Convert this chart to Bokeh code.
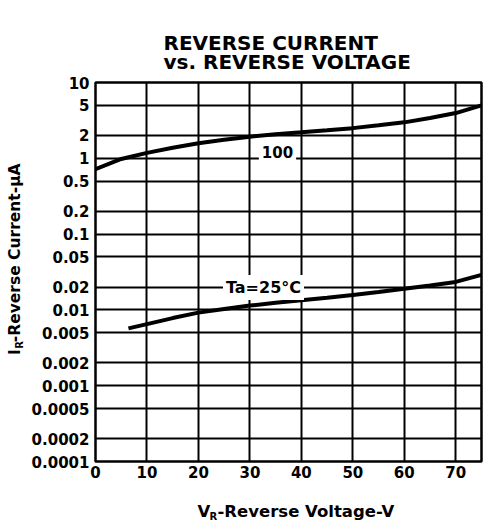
import math
from bokeh.plotting import figure
from bokeh.models import FixedTicker, Label
from bokeh.layouts import column, row
from bokeh.embed import file_html
from bokeh.resources import INLINE

# ---- data ----
x_ticks = [0, 10, 20, 30, 40, 50, 60, 70]
y_ticks = [0.0001, 0.0002, 0.0005, 0.001, 0.002, 0.005, 0.01, 0.02,
           0.05, 0.1, 0.2, 0.5, 1, 2, 5, 10]
y_tick_labels = ["0.0001", "0.0002", "0.0005", "0.001", "0.002", "0.005", "0.01", "0.02",
                 "0.05", "0.1", "0.2", "0.5", "1", "2", "5", "10"]

v_100 = [0, 5, 10, 15, 20, 25, 30, 35, 40, 45, 50, 55, 60, 65, 70, 75]
i_100 = [0.72, 0.98, 1.18, 1.38, 1.58, 1.76, 1.93, 2.07, 2.2, 2.34, 2.5, 2.72, 2.98, 3.4, 3.95, 5.0]

v_25 = [6.4, 10, 15, 20, 25, 30, 35, 40, 45, 50, 55, 60, 65, 70, 75]
i_25 = [0.0057, 0.0065, 0.0078, 0.0092, 0.0103, 0.0114, 0.0124, 0.0134, 0.0145,
        0.0157, 0.0172, 0.019, 0.021, 0.0234, 0.029]

title_lines = ["REVERSE CURRENT", "vs. REVERSE VOLTAGE"]
curve_labels = ["100", "Ta=25°C"]

X_MIN, X_MAX = 0, 75
Y_MIN, Y_MAX = 1e-4, 10

# ---- layout geometry (page pixels; the layout sits at the page origin) ----
FL, FR, FT, FB = 95, 481, 82, 461     # plot frame
TOTAL_W = 500
TITLE_H = 72                            # title strip: page y 0..72
YLAB_W = 26                             # y-label strip: page x 0..26
MAIN_W = TOTAL_W - YLAB_W
MAIN_TOP = TITLE_H
MAIN_H = 413                            # page y 72..485
XLAB_H = 42                             # x-label strip: page y 485..527
XLAB_TOP = MAIN_TOP + MAIN_H

FONT = "DejaVu Sans"


def dx(px):
    return X_MIN + (px - FL) * (X_MAX - X_MIN) / (FR - FL)


def dy(py):
    lo, hi = math.log10(Y_MIN), math.log10(Y_MAX)
    return 10 ** (lo + (FB - py) * (hi - lo) / (FB - FT))


def text_strip(w, h):
    f = figure(width=w, height=h, x_range=(0, w), y_range=(0, h),
               output_backend="svg", toolbar_location=None, title=None,
               x_axis_location=None, y_axis_location=None, min_border=0)
    f.outline_line_color = None
    f.background_fill_color = "white"
    f.border_fill_color = "white"
    f.grid.visible = False
    return f


def put(fig, x, y, text, size, style="bold", align="left", baseline="middle",
        angle=0.0, bg=None, pad=0):
    kw = {}
    if bg is not None:
        kw["background_fill_color"] = bg
        kw["padding"] = pad
    fig.add_layout(Label(x=x, y=y, text=text, text_font=FONT, text_font_style=style,
                         text_font_size=size, text_color="black", text_align=align,
                         text_baseline=baseline, angle=angle, **kw))


# ---- main plot ----
p = figure(width=MAIN_W, height=MAIN_H, x_range=(X_MIN, X_MAX), y_range=(Y_MIN, Y_MAX),
           y_axis_type="log", output_backend="svg", toolbar_location=None, title=None,
           min_border_left=FL - YLAB_W, min_border_right=YLAB_W + MAIN_W - FR,
           min_border_top=FT - MAIN_TOP, min_border_bottom=MAIN_TOP + MAIN_H - FB)
p.background_fill_color = "white"
p.border_fill_color = "white"
p.outline_line_color = "black"
p.outline_line_width = 2.5
p.outline_line_alpha = 1.0

p.xaxis.ticker = FixedTicker(ticks=x_ticks)
p.yaxis.ticker = FixedTicker(ticks=y_ticks)
p.xgrid.ticker = FixedTicker(ticks=x_ticks)
p.ygrid.ticker = FixedTicker(ticks=y_ticks)
p.yaxis.major_label_overrides = {v: s for v, s in zip(y_ticks, y_tick_labels)}

for ax in (p.xaxis[0], p.yaxis[0]):
    ax.axis_line_color = None
    ax.major_tick_line_color = None
    ax.minor_tick_line_color = None
    ax.major_tick_out = 0
    ax.major_tick_in = 0
    ax.major_label_text_font = FONT
    ax.major_label_text_font_style = "bold"
    ax.major_label_text_font_size = "15px"
    ax.major_label_text_color = "black"
p.yaxis.major_label_standoff = 6
p.xaxis.major_label_standoff = 4

p.grid.grid_line_color = "black"
p.grid.grid_line_width = 2
p.grid.grid_line_alpha = 1.0

p.line(v_100, i_100, line_color="black", line_width=4)
p.line(v_25, i_25, line_color="black", line_width=4)

put(p, dx(277), dy(151), curve_labels[0], "15px", align="center", bg="white", pad=3)
put(p, dx(263), dy(287), curve_labels[1], "16px", align="center", bg="white", pad=3)

# ---- title strip ----
t = text_strip(TOTAL_W, TITLE_H)
put(t, 163, TITLE_H - 42, title_lines[0], "20px")
put(t, 163, TITLE_H - 61, title_lines[1], "20px")

# ---- y label strip (rotated, with subscript) ----
yl = text_strip(YLAB_W, MAIN_H)
a = math.pi / 2
def ly(py):
    return MAIN_TOP + MAIN_H - py
put(yl, 14, ly(369), "I", "15.5px", angle=a)
put(yl, 19, ly(362), "R", "10px", angle=a)
put(yl, 14, ly(355), "-Reverse Current-μA", "15.5px", angle=a)

# ---- x label strip (with subscript) ----
xl = text_strip(TOTAL_W, XLAB_H)
def lx(py):
    return XLAB_TOP + XLAB_H - py
put(xl, 197, lx(510.5), "V", "16.5px")
put(xl, 209, lx(516), "R", "10px")
put(xl, 217, lx(510.5), "-Reverse Voltage-V", "16.5px")

layout = column(t, row(yl, p), xl)
open("out.html", "w").write(file_html(layout, INLINE))
